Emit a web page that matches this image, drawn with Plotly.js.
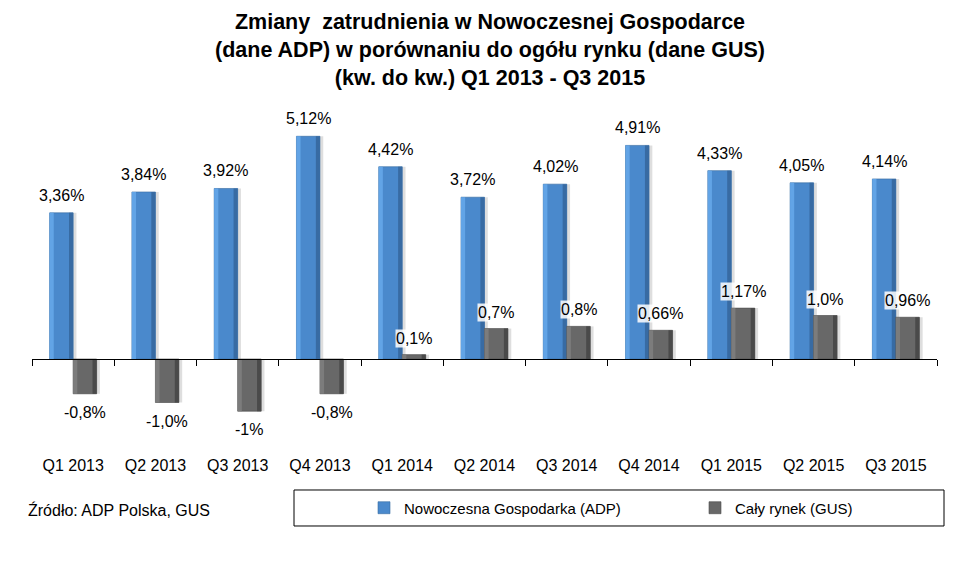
<!DOCTYPE html>
<html>
<head>
<meta charset="utf-8">
<script src="https://cdn.plot.ly/plotly-3.0.1.min.js"></script>
<style>html,body{margin:0;padding:0;background:#fff;}#chart{width:980px;height:570px;}</style>
</head>
<body>
<div id="chart"></div>
<script>
// ---- data ----
var categories = ["Q1 2013","Q2 2013","Q3 2013","Q4 2013","Q1 2014","Q2 2014","Q3 2014","Q4 2014","Q1 2015","Q2 2015","Q3 2015"];
var adpValues = [3.36, 3.84, 3.92, 5.12, 4.42, 3.72, 4.02, 4.91, 4.33, 4.05, 4.14];
var gusValues = [-0.8, -1.0, -1.2, -0.8, 0.1, 0.7, 0.75, 0.66, 1.17, 1.0, 0.96];
var adpLabels = ["3,36%","3,84%","3,92%","5,12%","4,42%","3,72%","4,02%","4,91%","4,33%","4,05%","4,14%"];
var gusLabels = ["-0,8%","-1,0%","-1%","-0,8%","0,1%","0,7%","0,8%","0,66%","1,17%","1,0%","0,96%"];
var seriesNames = ["Nowoczesna Gospodarka (ADP)", "Cały rynek (GUS)"];

// ---- styling ----
var FONT = "Liberation Sans, Arial, sans-serif";
var BW = 0.2857;   // bar width in category units
var FW = 0.05;     // bevel facet width
var yRange = [-1.862, 5.724];

function barSet(vals, off, base, light, dark, name, legendId) {
  var common = {type: "bar", x: categories, y: vals, hoverinfo: "skip", showlegend: false};
  return [
    Object.assign({}, common, {offset: off + 0.04, width: BW, marker: {color: "rgba(0,0,0,0.13)", line: {width: 0}}}),
    Object.assign({}, common, {name: name, showlegend: true, legend: legendId, offset: off, width: BW,
      marker: {color: base, line: {color: dark, width: 0.6}}}),
    Object.assign({}, common, {offset: off, width: FW, marker: {color: light, line: {width: 0}}}),
    Object.assign({}, common, {offset: off + BW - FW, width: FW, marker: {color: dark, line: {width: 0}}})
  ];
}

var traces = []
  .concat(barSet(adpValues, -BW, "#4a89cc", "#62a4e6", "#386ba3", seriesNames[0], "legend"))
  .concat(barSet(gusValues, 0, "#686868", "#7c7c7c", "#4a4a4a", seriesNames[1], "legend2"));

var annotations = [];
adpValues.forEach(function (v, i) {
  annotations.push({x: i - BW / 2, y: v, xref: "x", yref: "y", text: adpLabels[i], showarrow: false,
    yanchor: "bottom", yshift: 7, font: {family: FONT, size: 16, color: "#000"}});
});
gusValues.forEach(function (v, i) {
  var pos = v >= 0;
  annotations.push({x: i + BW / 2, y: v, xref: "x", yref: "y", text: gusLabels[i], showarrow: false,
    yanchor: pos ? "bottom" : "top", yshift: pos ? 7 : -9,
    bgcolor: pos ? "rgba(255,255,255,0.85)" : "rgba(0,0,0,0)", borderpad: 0,
    font: {family: FONT, size: 16, color: "#000"}});
});
annotations.push({xref: "paper", yref: "paper", x: -0.007, y: -0.212, xanchor: "left", yanchor: "middle",
  text: "Źródło: ADP Polska, GUS", showarrow: false, font: {family: FONT, size: 16, color: "#000"}});

var legendCommon = {orientation: "h", xanchor: "left", y: -0.206, yanchor: "middle",
  bgcolor: "rgba(0,0,0,0)", font: {family: FONT, size: 15, color: "#000"}, itemwidth: 30};

var layout = {
  width: 980, height: 570,
  margin: {l: 32, r: 43, t: 110, b: 130},
  paper_bgcolor: "#fff", plot_bgcolor: "#fff",
  barmode: "overlay",
  showlegend: true,
  hovermode: false,
  title: {
    text: "<b>Zmiany\u00a0 zatrudnienia w Nowoczesnej Gospodarce<br>(dane ADP) w porównaniu do ogółu rynku (dane GUS)<br>(kw. do kw.) Q1 2013 - Q3 2015</b>",
    x: 0.5, xref: "container", xanchor: "center",
    y: 1 - 29 / 570, yref: "container", yanchor: "top",
    font: {family: FONT, size: 21.5, color: "#000"}
  },
  xaxis: {
    type: "category", range: [-0.5, categories.length - 0.5],
    anchor: "free", position: -yRange[0] / (yRange[1] - yRange[0]),
    showline: true, linecolor: "#000", linewidth: 1,
    ticks: "outside", tickson: "boundaries", ticklen: 6, tickcolor: "#000", tickwidth: 1,
    ticklabelstandoff: 92,
    showgrid: false, zeroline: false,
    tickfont: {family: FONT, size: 16, color: "#000"}
  },
  yaxis: {range: yRange, visible: false, showgrid: false, zeroline: false},
  legend: Object.assign({}, legendCommon, {x: (364 - 32) / 905}),
  legend2: Object.assign({}, legendCommon, {x: (695 - 32) / 905}),
  shapes: [{type: "rect", xref: "paper", yref: "paper",
    x0: (294 - 32) / 905, x1: (944 - 32) / 905, y0: -0.1515, y1: -0.2606,
    line: {color: "#000", width: 1}, fillcolor: "rgba(0,0,0,0)"}],
  annotations: annotations
};

Plotly.newPlot("chart", traces, layout, {displayModeBar: false, staticPlot: true});
</script>
</body>
</html>
